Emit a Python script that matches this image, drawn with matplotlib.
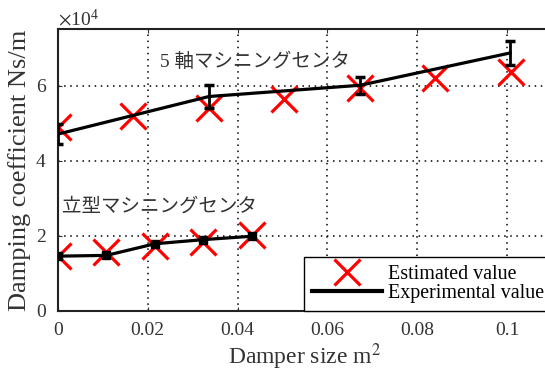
import numpy as np
import matplotlib
matplotlib.use("Agg")
import matplotlib.pyplot as plt

plt.rcParams['font.family'] = ['Liberation Serif', 'Noto Sans CJK JP']
plt.rcParams['mathtext.fontset'] = 'stix'

# 5-axis machining center
x_5ax_est = [0.0, 0.0168, 0.0336, 0.0504, 0.0672, 0.084, 0.1008]
y_5ax_est = [49000, 51800, 54000, 56400, 59400, 62000, 63600]
x_5ax_exp = [0.0, 0.0336, 0.0673, 0.1007]
y_5ax_exp = [47100, 57100, 60100, 68700]
err_5ax_exp = [2700, 3100, 2200, 3300]

# vertical machining center
x_vert_est = [0.0, 0.0108, 0.0216, 0.0324, 0.0432]
y_vert_est = [14600, 15600, 17300, 18300, 20200]
x_vert_exp = [0.0, 0.0108, 0.0216, 0.0324, 0.0432]
y_vert_exp = [14600, 14800, 17900, 19000, 19900]

xticks = [0, 0.02, 0.04, 0.06, 0.08, 0.1]
xtick_labels = ['0', '0.02', '0.04', '0.06', '0.08', '0.1']
yticks = [0, 20000, 40000, 60000]

fig = plt.figure(figsize=(5.45, 3.76), dpi=100)
ax = fig.add_axes([0.1064, 0.1729, 0.9064, 0.7492])

xkw = dict(ls='none', marker='x', color='red', ms=19, mew=2.3, zorder=3)
ax.plot(x_5ax_est, y_5ax_est, **xkw)
ax.plot(x_vert_est, y_vert_est, **xkw)

ax.errorbar(x_5ax_exp, y_5ax_exp, yerr=err_5ax_exp, color='black', lw=2.3,
            elinewidth=2.0, capsize=3.5, capthick=2.5, zorder=4)
ax.plot(x_vert_exp, y_vert_exp, color='black', lw=2.3, marker='s', ms=6, zorder=4)

ax.set_xlim(0, 0.11)
ax.set_ylim(0, 75000)
ax.set_xticks(xticks)
ax.set_xticklabels(xtick_labels)
ax.set_yticks(yticks)
ax.ticklabel_format(axis='y', style='sci', scilimits=(4, 4), useMathText=True)
ax.yaxis.get_offset_text().set_fontsize(14)
ax.yaxis.get_offset_text().set_color('#333333')

ax.tick_params(direction='in', length=3, labelsize=14, colors='#333333',
               top=True, right=True, pad=8)
ax.grid(True, color='black', ls=(0, (1, 3)), lw=1.1)
for s in ax.spines.values():
    s.set_linewidth(1.5)
    s.set_color('#222222')

ax.set_xlabel('Damper size m$^2$', fontsize=17, color='#333333', labelpad=2)
ax.set_ylabel('Damping coefficient Ns/m', fontsize=19, color='#333333', labelpad=3)

ax.text(0.0227, 66400, '5 軸マシニングセンタ', fontsize=14, color='#333333',
        va='center', ha='left')
ax.text(0.0009, 27700, '立型マシニングセンタ', fontsize=14, color='#333333',
        va='center', ha='left')

h1, = ax.plot([], [], ls='none', marker='x', color='red', ms=19, mew=2.3)
h2, = ax.plot([], [], color='black', lw=3)
leg = ax.legend([h1, h2], ['Estimated value', 'Experimental value'],
                loc='lower right', borderaxespad=0,
                fancybox=False, edgecolor='black', framealpha=1, fontsize=14.4,
                handlelength=3.5, handletextpad=0.3, labelspacing=0.0,
                borderpad=0.4)
leg.get_frame().set_linewidth(1.0)

fig.savefig('out.png', dpi=100)
